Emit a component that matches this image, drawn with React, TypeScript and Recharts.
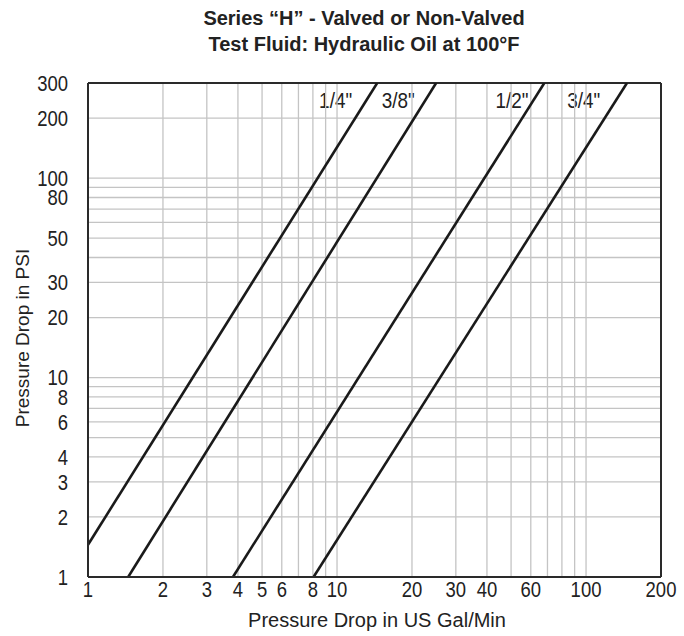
import React from 'react';
import { LineChart, Line, XAxis, YAxis, ReferenceLine, ReferenceArea } from 'recharts';

// Flow (US Gal/Min) vs pressure drop (PSI), endpoints
const quarter = [ { q: 1, p: 1.45 }, { q: 14.5, p: 300 } ];
const threeEighths = [ { q: 1.45, p: 1 }, { q: 25, p: 300 } ];
const half = [ { q: 3.82, p: 1 }, { q: 68, p: 300 } ];
const threeQuarter = [ { q: 8.05, p: 1 }, { q: 146, p: 300 } ];

const seriesNames = ['1/4"', '3/8"', '1/2"', '3/4"'];

const xTicks = [1, 2, 3, 4, 5, 6, 8, 10, 20, 30, 40, 60, 100, 200];
const yTicks = [1, 2, 3, 4, 6, 8, 10, 20, 30, 50, 80, 100, 200, 300];
const xGrid = [2, 3, 4, 5, 6, 7, 8, 9, 10, 20, 30, 40, 50, 60, 70, 80, 90, 100];
const yGrid = [2, 3, 4, 5, 6, 7, 8, 9, 10, 20, 30, 40, 50, 60, 70, 80, 90, 100, 200];

const FONT = '"Liberation Sans", Arial, sans-serif';
const SQUEEZE = 0.86;

const labelBoxes = [
  { name: seriesNames[0], x1: 8.4, x2: 11.6 },
  { name: seriesNames[1], x1: 14.8, x2: 21 },
  { name: seriesNames[2], x1: 41, x2: 62 },
  { name: seriesNames[3], x1: 82, x2: 117 },
];

const XTick = (props: any) => {
  const { x, y, payload } = props;
  return (
    <g transform={`translate(${x},${y})`}>
      <text transform={`scale(${SQUEEZE},1)`} textAnchor="middle" dy="0.72em" fontSize={21.5} fill="#222" fontFamily={FONT}>
        {payload.value}
      </text>
    </g>
  );
};

const YTick = (props: any) => {
  const { x, y, payload } = props;
  return (
    <g transform={`translate(${x},${y})`}>
      <text transform={`scale(${SQUEEZE},1)`} textAnchor="end" dy="0.36em" fontSize={21.5} fill="#222" fontFamily={FONT}>
        {payload.value}
      </text>
    </g>
  );
};

const BoxLabel = (props: any) => {
  const { viewBox, value } = props;
  const cx = viewBox.x + viewBox.width / 2;
  const cy = viewBox.y + viewBox.height / 2;
  return (
    <g transform={`translate(${cx},${cy})`}>
      <text transform={`scale(${SQUEEZE},1)`} textAnchor="middle" dy="0.36em" fontSize={22} fill="#222" fontFamily={FONT}>
        {value}
      </text>
    </g>
  );
};

export default function App() {
  const lineProps = { type: 'linear' as const, dataKey: 'p', stroke: '#1a1a1a', strokeWidth: 2.6, dot: false, isAnimationActive: false, activeDot: false };
  return (
    <div style={{ position: 'absolute', left: 0, top: 0, width: 684, height: 636, background: '#fff', fontFamily: FONT }}>
      <div style={{ position: 'absolute', left: 0, width: 684, top: 5, textAlign: 'center', paddingLeft: 44, boxSizing: 'border-box', fontWeight: 'bold', fontSize: 20, lineHeight: '26px', color: '#222' }}>
        <div>Series “H” - Valved or Non-Valved</div>
        <div>Test Fluid: Hydraulic Oil at 100°F</div>
      </div>
      <div style={{ position: 'absolute', left: 23, top: 338, width: 0, height: 0 }}>
        <div style={{ position: 'absolute', transform: 'translate(-50%, -50%) rotate(-90deg)', whiteSpace: 'nowrap', fontSize: 19, color: '#222' }}>Pressure Drop in PSI</div>
      </div>
      <div style={{ position: 'absolute', left: 377, top: 620, width: 0, height: 0 }}>
        <div style={{ position: 'absolute', transform: 'translate(-50%, -50%)', whiteSpace: 'nowrap', fontSize: 20, color: '#222' }}>Pressure Drop in US Gal/Min</div>
      </div>
      <LineChart width={684} height={636} margin={{ top: 83, right: 23, left: 0, bottom: 0 }} style={{ position: 'absolute', left: 0, top: 0 }}>
        <XAxis
          type="number"
          dataKey="q"
          scale="log"
          domain={[1, 200]}
          allowDataOverflow
          ticks={xTicks}
          interval={0}
          height={59}
          tickLine={false}
          tickSize={0}
          tickMargin={5}
          axisLine={{ stroke: '#2a2a2a', strokeWidth: 2 }}
          tick={<XTick />}
        />
        <YAxis
          type="number"
          dataKey="p"
          scale="log"
          domain={[1, 300]}
          allowDataOverflow
          ticks={yTicks}
          interval={0}
          width={88}
          tickLine={false}
          tickSize={0}
          tickMargin={20}
          axisLine={{ stroke: '#2a2a2a', strokeWidth: 2 }}
          tick={<YTick />}
        />
        {xGrid.map((v) => (
          <ReferenceLine key={'gx' + v} x={v} stroke="#c4c4c4" strokeWidth={1.3} />
        ))}
        {yGrid.map((v) => (
          <ReferenceLine key={'gy' + v} y={v} stroke="#c4c4c4" strokeWidth={1.3} />
        ))}
        <ReferenceLine x={200} stroke="#2a2a2a" strokeWidth={2} />
        <ReferenceLine y={300} stroke="#2a2a2a" strokeWidth={2} />
        {labelBoxes.map((b) => (
          <ReferenceArea
            key={b.name}
            x1={b.x1}
            x2={b.x2}
            y1={200}
            y2={300}
            fill="#fff"
            fillOpacity={1}
            stroke="none"
            label={<BoxLabel value={b.name} />}
          />
        ))}
        <Line {...lineProps} data={quarter} name={seriesNames[0]} />
        <Line {...lineProps} data={threeEighths} name={seriesNames[1]} />
        <Line {...lineProps} data={half} name={seriesNames[2]} />
        <Line {...lineProps} data={threeQuarter} name={seriesNames[3]} />
      </LineChart>
    </div>
  );
}
